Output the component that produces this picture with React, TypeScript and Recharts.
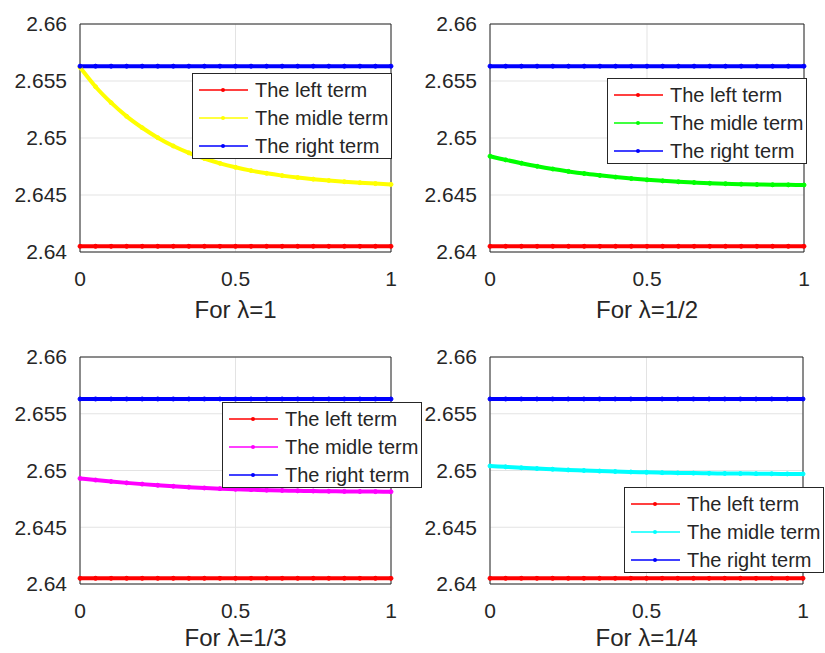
import { LineChart, Line, XAxis, YAxis, CartesianGrid, Legend, ReferenceArea } from 'recharts';

// x positions of the sampled points (0 .. 1)
const X_VALUES = [0, 0.05, 0.1, 0.15, 0.2, 0.25, 0.3, 0.35, 0.4, 0.45, 0.5, 0.55, 0.6, 0.65, 0.7, 0.75, 0.8, 0.85, 0.9, 0.95, 1];

const LEFT_TERM = [
  2.6405, 2.6405, 2.6405, 2.6405, 2.6405, 2.6405, 2.6405, 2.6405, 2.6405, 2.6405, 2.6405,
  2.6405, 2.6405, 2.6405, 2.6405, 2.6405, 2.6405, 2.6405, 2.6405, 2.6405, 2.6405,
];
const RIGHT_TERM = [
  2.6563, 2.6563, 2.6563, 2.6563, 2.6563, 2.6563, 2.6563, 2.6563, 2.6563, 2.6563, 2.6563,
  2.6563, 2.6563, 2.6563, 2.6563, 2.6563, 2.6563, 2.6563, 2.6563, 2.6563, 2.6563,
];

// middle term, one array per lambda
const MIDDLE_L1 = [
  2.6562, 2.6545, 2.6531, 2.6519, 2.6509, 2.65003, 2.6493, 2.6487, 2.6482, 2.64778, 2.64743,
  2.64714, 2.6469, 2.6467, 2.64653, 2.64639, 2.64627, 2.64617, 2.64608, 2.646, 2.64593,
];
const MIDDLE_L2 = [
  2.6484, 2.64808, 2.64779, 2.64752, 2.64728, 2.64707, 2.64688, 2.64672, 2.64657, 2.64644, 2.64633,
  2.64624, 2.64616, 2.64609, 2.64603, 2.64599, 2.64595, 2.64592, 2.6459, 2.64589, 2.64588,
];
const MIDDLE_L3 = [
  2.6493, 2.64916, 2.64903, 2.64891, 2.6488, 2.6487, 2.64861, 2.64853, 2.64846, 2.6484, 2.64835,
  2.64831, 2.64827, 2.64824, 2.64821, 2.64819, 2.64817, 2.64816, 2.64815, 2.64814, 2.64813,
];
const MIDDLE_L4 = [
  2.6504, 2.65032, 2.65024, 2.65017, 2.65011, 2.65005, 2.65, 2.64995, 2.64991, 2.64987, 2.64984,
  2.64981, 2.64979, 2.64977, 2.64975, 2.64974, 2.64973, 2.64972, 2.64971, 2.6497, 2.6497,
];

const X_TICKS = [0, 0.5, 1];
const Y_TICKS = [2.64, 2.645, 2.65, 2.655, 2.66];
const SERIES_NAMES = ['The left term', 'The midle term', 'The right term'];
const LAMBDA_LABELS = ['For \u03bb=1', 'For \u03bb=1/2', 'For \u03bb=1/3', 'For \u03bb=1/4'];
const MIDDLE_COLORS = ['#ffff00', '#00ff00', '#ff00ff', '#00ffff'];

const TEXT = '#262626';

const PANELS = [
  { middle: MIDDLE_L1, left: 0, top: 0, width: 420, height: 326, axisHeight: 74, labelOffset: 8, margin: { top: 24, right: 29, left: 0, bottom: 0 }, legend: { left: 192, top: 73 } },
  { middle: MIDDLE_L2, left: 410, top: 0, width: 415, height: 326, axisHeight: 74, labelOffset: 8, margin: { top: 24, right: 21, left: 0, bottom: 0 }, legend: { left: 197, top: 78 } },
  { middle: MIDDLE_L3, left: 0, top: 330, width: 420, height: 323, axisHeight: 69, labelOffset: 7, margin: { top: 27, right: 29, left: 0, bottom: 0 }, legend: { left: 222, top: 72 } },
  { middle: MIDDLE_L4, left: 410, top: 330, width: 415, height: 323, axisHeight: 69, labelOffset: 7, margin: { top: 27, right: 22, left: 0, bottom: 0 }, legend: { left: 214, top: 157 } },
];

function LegendBox({ payload }: any) {
  return (
    <div style={{ width: 200, height: 86, border: `1px solid ${TEXT}`, background: '#fff', boxSizing: 'border-box', paddingTop: 2 }}>
      {(payload || []).map((entry: any) => (
        <div key={entry.value} style={{ display: 'flex', alignItems: 'center', height: 28 }}>
          <svg width={62} height={10} style={{ flex: 'none' }}>
            <line x1={6} y1={5} x2={55} y2={5} stroke={entry.color} strokeWidth={1.5} />
            <circle cx={30} cy={5} r={2} fill={entry.color} />
          </svg>
          <span style={{ fontSize: 20, color: TEXT, whiteSpace: 'nowrap' }}>{entry.value}</span>
        </div>
      ))}
    </div>
  );
}

function Panel({ index }: { index: number }) {
  const p = PANELS[index];
  const color = MIDDLE_COLORS[index];
  const data = X_VALUES.map((x, i) => ({ x, left: LEFT_TERM[i], middle: p.middle[i], right: RIGHT_TERM[i] }));
  const dot = (c: string) => ({ r: 2, fill: c, stroke: c, strokeWidth: 1 });

  return (
    <div style={{ position: 'absolute', left: p.left, top: p.top }}>
      <LineChart width={p.width} height={p.height} data={data} margin={p.margin}>
        <CartesianGrid stroke="#e3e3e3" />
        <XAxis
          dataKey="x"
          type="number"
          domain={[0, 1]}
          ticks={X_TICKS}
          axisLine={false}
          tickLine={false}
          tickSize={0}
          tickMargin={19}
          height={p.axisHeight}
          tick={{ fill: TEXT, fontSize: 21 }}
          label={{ value: LAMBDA_LABELS[index], position: 'insideBottom', offset: p.labelOffset, fill: TEXT, fontSize: 24 }}
        />
        <YAxis
          type="number"
          domain={[2.64, 2.66]}
          ticks={Y_TICKS}
          axisLine={false}
          tickLine={false}
          tickSize={0}
          tickMargin={13}
          width={80}
          tick={{ fill: TEXT, fontSize: 21 }}
        />
        <ReferenceArea x1={0} x2={1} y1={2.64} y2={2.66} fill="none" stroke={TEXT} strokeWidth={1} />
        <Line name={SERIES_NAMES[0]} dataKey="left" type="linear" stroke="#ff0000" strokeWidth={4} dot={dot('#ff0000')} isAnimationActive={false} />
        <Line name={SERIES_NAMES[1]} dataKey="middle" type="monotone" stroke={color} strokeWidth={4} dot={dot(color)} isAnimationActive={false} />
        <Line name={SERIES_NAMES[2]} dataKey="right" type="linear" stroke="#0000ff" strokeWidth={4} dot={dot('#0000ff')} isAnimationActive={false} />
        <Legend
          layout="vertical"
          align="center"
          verticalAlign="middle"
          content={<LegendBox />}
          wrapperStyle={{ left: p.legend.left, top: p.legend.top, width: 200, height: 86 }}
        />
      </LineChart>
    </div>
  );
}

export default function App() {
  return (
    <div
      style={{
        position: 'absolute',
        left: 0,
        top: 0,
        width: 825,
        height: 653,
        overflow: 'hidden',
        background: '#fff',
        fontFamily: '"Liberation Sans", Arial, sans-serif',
      }}
    >
      {PANELS.map((_, i) => (
        <Panel key={i} index={i} />
      ))}
    </div>
  );
}
